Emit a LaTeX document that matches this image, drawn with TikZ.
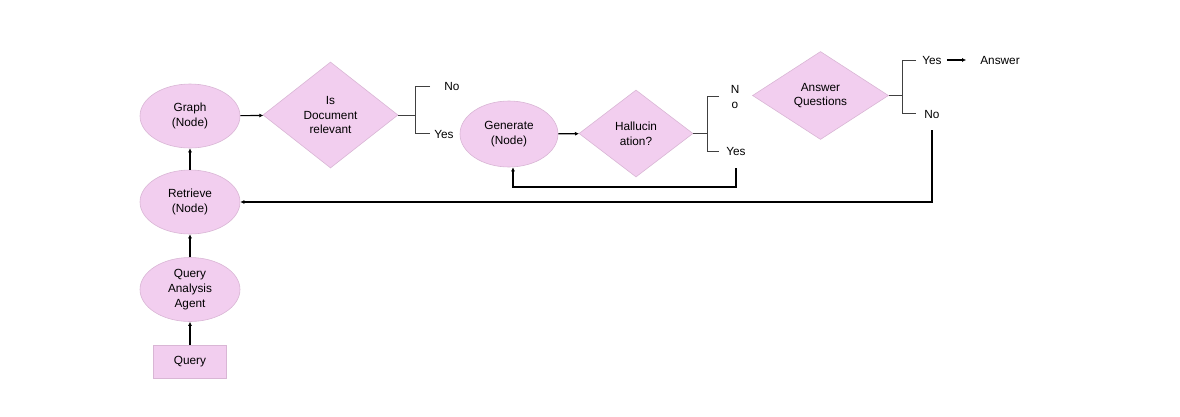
\documentclass[tikz,border=0pt]{standalone}
\usepackage{fontspec}
\setmainfont{Liberation Sans}
\usetikzlibrary{shapes.geometric,arrows.meta}
\definecolor{pinkfill}{HTML}{F2CEEF}
\definecolor{pinkline}{HTML}{D9B6D5}
\definecolor{branchgrey}{HTML}{404040}
\begin{document}
\begin{tikzpicture}[x=1pt,y=-1pt,
  txt/.style={font=\fontsize{11.8}{14.8}\selectfont, align=center, inner sep=0pt},
  ell/.style={txt, ellipse, fill=pinkfill, draw=pinkline, line width=0.6pt, minimum width=100pt, minimum height=64pt},
  dia/.style={txt, diamond, fill=pinkfill, draw=pinkline, line width=0.6pt},
  box/.style={txt, rectangle, fill=pinkfill, draw=pinkline, line width=0.6pt, minimum width=73pt, minimum height=33pt},
  arr/.style={line width=1.15pt, -{Latex[length=4pt,width=4pt]}},
  branch/.style={line width=1pt, draw=branchgrey}]
\useasboundingbox (0,0) rectangle (1180,416);
% nodes
\node[box] (query) at (190,361.5) {Query};
\node[ell] (qa) at (190,289.5) {Query\\Analysis\\Agent};
\node[ell] (retr) at (190,202) {Retrieve\\(Node)};
\node[ell] (graph) at (190,116) {Graph\\(Node)};
\node[dia, minimum width=135pt, minimum height=106pt] (isdoc) at (330.5,115) {Is\\Document\\relevant};
\node[txt] (no1) at (452,86) {No};
\node[txt] (yes1) at (444,134) {Yes};
\node[ell, minimum width=98pt, minimum height=66pt] (gen) at (509,134) {Generate\\(Node)};
\node[dia, minimum width=114pt, minimum height=87pt] (hall) at (636,133.5) {Hallucin\\ation?};
\node[txt] (no2) at (735,97) {N\\o};
\node[txt] (yes2) at (736,151) {Yes};
\node[dia, minimum width=136pt, minimum height=88pt] (ansq) at (820.5,95.5) {Answer\\Questions};
\node[txt] (yes3) at (932,60) {Yes};
\node[txt] (ans) at (1000,60) {Answer};
\node[txt] (no3) at (932,114) {No};
% coordinates
\coordinate (b1) at (415,115);
\coordinate (b2) at (707,133.5);
\coordinate (b3) at (902,95.5);
\coordinate (l1) at (736,168);
\coordinate (l2) at (932,130);
% vertical chain
\draw[arr] (query) -- (qa);
\draw[arr] (qa) -- (retr);
\draw[arr] (retr) -- (graph);
\draw[arr] (graph) -- (isdoc);
\draw[arr] (gen) -- (hall);
% branches
\draw[branch] (isdoc.east) -- (b1);
\draw[branch] (430,86) -- (415,86) -- (415,133) -- (430,133);
\draw[branch] (hall.east) -- (b2);
\draw[branch] (719,96) -- (707,96) -- (707,151) -- (719,151);
\draw[branch] (ansq.east) -- (b3);
\draw[branch] (916,60) -- (902,60) -- (902,113) -- (916,113);
\draw[arr] (yes3.east) ++(5,0) -- ([xshift=-14pt]ans.west);
% loops
\draw[arr] (l1) -- (736,187) -| ([xshift=4pt]gen.south);
\draw[arr] (l2) |- (retr.east);
\end{tikzpicture}
\end{document}
